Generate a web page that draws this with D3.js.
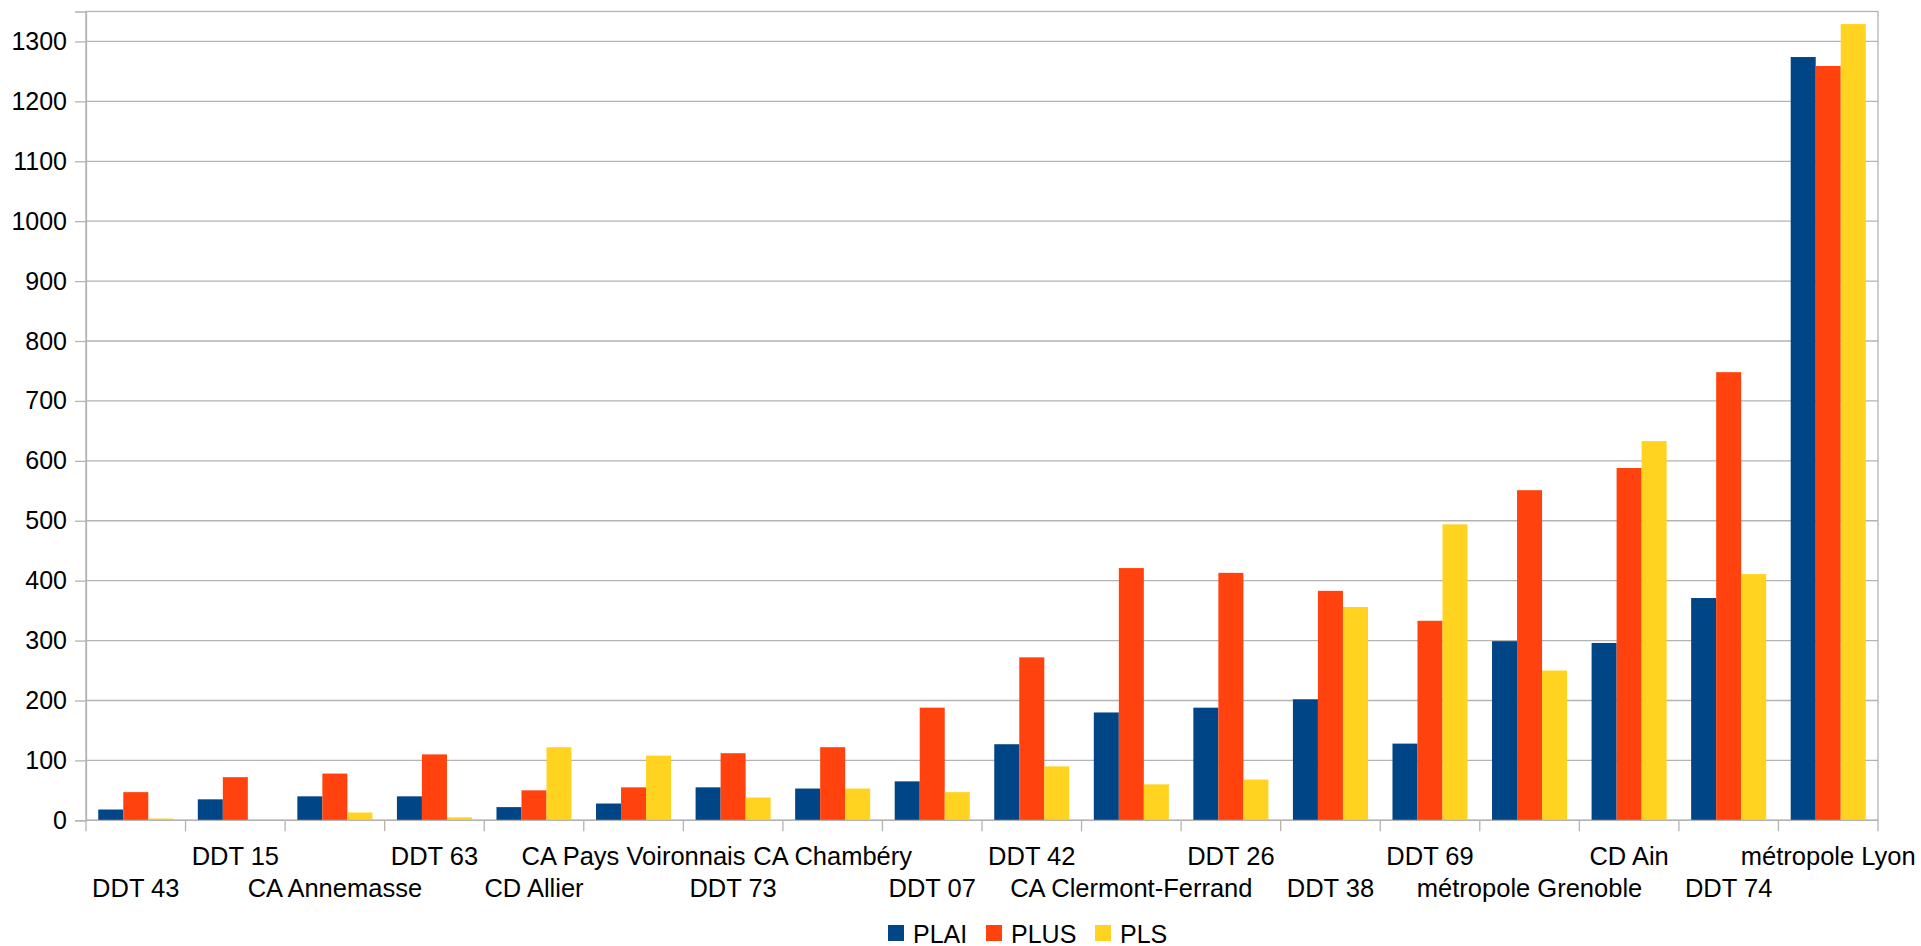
<!DOCTYPE html>
<html lang="fr">
<head>
    <meta charset="UTF-8">
    <title>PLAI / PLUS / PLS</title>
    <script src="https://d3js.org/d3.v7.min.js"></script>
    <style>
        body { margin: 0; background: #fff; }
        text { font-family: "Liberation Sans", Arial, sans-serif; fill: #000; }
    </style>
</head>
<body>
<svg width="1921" height="946"></svg>
<script>
    // data
    var categories = ["DDT 43", "DDT 15", "CA Annemasse", "DDT 63", "CD Allier", "CA Pays Voironnais",
        "DDT 73", "CA Chambéry", "DDT 07", "DDT 42", "CA Clermont-Ferrand", "DDT 26",
        "DDT 38", "DDT 69", "métropole Grenoble", "CD Ain", "DDT 74", "métropole Lyon"];
    var seriesNames = ["PLAI", "PLUS", "PLS"];
    var plai = [18, 35, 40, 40, 22, 28, 55, 53, 65, 127, 180, 188, 202, 128, 299, 296, 371, 1274];
    var plus = [47, 72, 78, 110, 50, 55, 112, 122, 188, 272, 421, 413, 383, 333, 551, 588, 748, 1259];
    var pls  = [3, 0, 13, 5, 122, 108, 38, 53, 47, 90, 60, 68, 356, 494, 250, 633, 411, 1329];
    var yTicks = d3.range(0, 1301, 100);
    var colours = ["#004586", "#ff420e", "#ffd320"];

    (function () {
        var svg = d3.select("svg");
        var mLeft = 86, mRight = 1878, mTop = 11.5, mBottom = 820.3;
        var grid = "#b3b3b3";

        var x0 = d3.scaleBand().domain(categories).range([mLeft, mRight]).padding(0);
        var x1 = d3.scaleBand().domain(seriesNames).range([0, x0.bandwidth()])
            .paddingInner(0).paddingOuter(0.49);
        var y = d3.scaleLinear().domain([0, 1350]).range([mBottom, mTop]);

        // gridlines
        svg.append("g").selectAll("line").data(yTicks).enter()
            .append("line")
            .attr("x1", mLeft).attr("x2", mRight)
            .attr("y1", function (d) { return y(d); })
            .attr("y2", function (d) { return y(d); })
            .attr("stroke", grid).attr("stroke-width", 1.3);

        // frame
        svg.append("rect")
            .attr("x", mLeft).attr("y", mTop)
            .attr("width", mRight - mLeft).attr("height", mBottom - mTop)
            .attr("fill", "none").attr("stroke", grid).attr("stroke-width", 1.3);

        // y axis
        var yAxis = svg.append("g")
            .attr("transform", "translate(" + mLeft + ",0)")
            .call(d3.axisLeft(y).tickValues(yTicks).tickFormat(d3.format("d"))
                .tickSize(11).tickPadding(8));
        yAxis.select(".domain").attr("stroke", grid).attr("stroke-width", 1.3);
        yAxis.selectAll(".tick line").attr("stroke", grid).attr("stroke-width", 1.3);
        yAxis.selectAll("text").style("font-size", "25px")
            .style("font-family", "'Liberation Sans', Arial, sans-serif").attr("fill", "#000");

        // bars
        var rows = categories.map(function (c, i) {
            return { cat: c, vals: [plai[i], plus[i], pls[i]] };
        });
        var groups = svg.append("g").selectAll("g").data(rows).enter()
            .append("g")
            .attr("transform", function (d) { return "translate(" + x0(d.cat) + ",0)"; });
        groups.selectAll("rect")
            .data(function (d) { return d.vals.map(function (v, k) { return { s: seriesNames[k], v: v, k: k }; }); })
            .enter().append("rect")
            .attr("x", function (d) { return x1(d.s); })
            .attr("width", x1.bandwidth())
            .attr("y", function (d) { return y(d.v); })
            .attr("height", function (d) { return mBottom - y(d.v); })
            .attr("fill", function (d) { return colours[d.k]; });

        // x axis line + ticks at category boundaries
        svg.append("line")
            .attr("x1", mLeft).attr("x2", mRight).attr("y1", mBottom).attr("y2", mBottom)
            .attr("stroke", grid).attr("stroke-width", 1.3);
        var bounds = categories.map(function (c) { return x0(c); }).concat([mRight]);
        svg.append("g").selectAll("line").data(bounds).enter()
            .append("line")
            .attr("x1", function (d) { return d; }).attr("x2", function (d) { return d; })
            .attr("y1", mBottom).attr("y2", mBottom + 11)
            .attr("stroke", grid).attr("stroke-width", 1.3);

        // staggered category labels
        svg.append("g").selectAll("text").data(categories).enter()
            .append("text")
            .attr("x", function (d) { return x0(d) + x0.bandwidth() / 2; })
            .attr("y", function (d, i) { return i % 2 ? 865 : 897; })
            .attr("text-anchor", "middle")
            .style("font-size", "25.5px")
            .text(function (d) { return d; });

        // legend
        var legX = [888, 986, 1095];
        var leg = svg.append("g").selectAll("g").data(seriesNames).enter()
            .append("g")
            .attr("transform", function (d, i) { return "translate(" + legX[i] + ",925)"; });
        leg.append("rect").attr("width", 16).attr("height", 16)
            .attr("fill", function (d, i) { return colours[i]; });
        leg.append("text").attr("x", 25).attr("y", 17.5)
            .style("font-size", "25px")
            .text(function (d) { return d; });
    })();
</script>
</body>
</html>
